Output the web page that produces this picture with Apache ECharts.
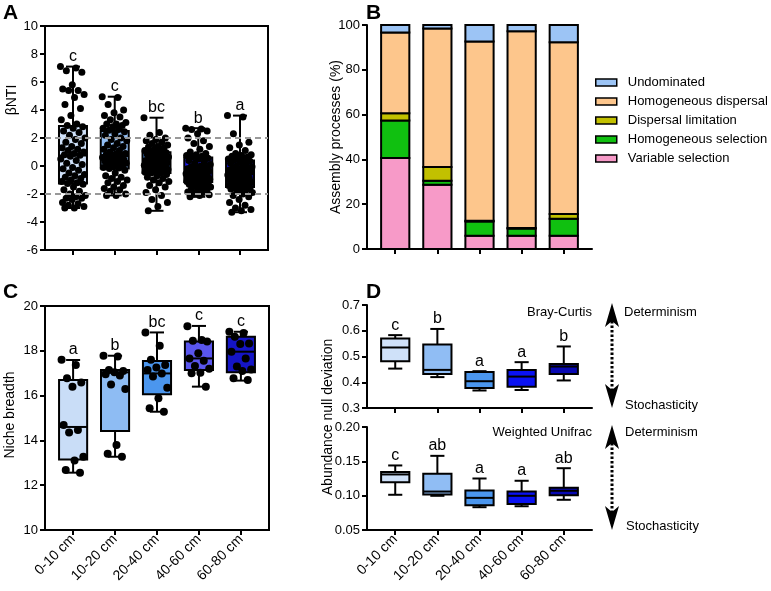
<!DOCTYPE html>
<html><head><meta charset="utf-8">
<script src="https://cdn.jsdelivr.net/npm/echarts@6/dist/echarts.min.js"></script>
<style>html,body{margin:0;padding:0;background:#fff}#c{width:771px;height:591px}</style>
</head><body><div id="c"></div><script>
// ---------- shared ----------
const depths = ['0-10 cm', '10-20 cm', '20-40 cm', '40-60 cm', '60-80 cm'];

// ---------- Panel A: betaNTI ----------
const betaBox = [ // [min, Q1, median, Q3, max]
  [-3.0, -1.25, 0.75, 2.85, 7.1],
  [-2.1, -0.17, 0.7, 2.5, 4.95],
  [-3.2, -0.5, 0.1, 0.98, 3.45],
  [-2.2, -1.15, -0.45, 0.6, 2.7],
  [-3.3, -1.5, -0.55, 0.4, 3.6]
];
const betaLetters = ['c', 'c', 'bc', 'b', 'a'];
const beta_0_10 = [7.1,7.0,6.8,6.7,5.8,5.5,5.4,5.4,5.1,4.9,4.4,4.1,3.6,3.3,3.0,2.9,
  2.8,2.7,2.5,2.4,2.2,2.0,1.9,1.7,1.6,1.4,1.3,1.2,1.1,1.0,0.9,0.8,0.76,
  0.7,0.5,0.4,0.2,0.1,-0.1,-0.2,-0.3,-0.5,-0.6,-0.7,-0.8,-0.9,-1.0,-1.1,-1.2,-1.25,
  -1.3,-1.5,-1.7,-1.8,-2.0,-2.1,-2.2,-2.3,-2.3,-2.4,-2.6,-2.7,-2.8,-2.9,-3.0,-3.0];
const beta_10_20 = [4.95,4.9,4.4,4.0,3.8,3.6,3.5,3.3,3.1,3.0,3.0,2.9,2.8,2.7,2.6,2.55,
  2.45,2.3,2.2,2.0,1.9,1.8,1.6,1.5,1.4,1.3,1.2,1.1,1.0,0.9,0.85,0.8,0.75,
  0.65,0.6,0.55,0.5,0.45,0.4,0.35,0.3,0.25,0.2,0.1,0.05,0.0,-0.05,-0.1,-0.15,-0.17,
  -0.3,-0.5,-0.7,-0.8,-0.9,-1.0,-1.1,-1.2,-1.4,-1.5,-1.6,-1.7,-1.8,-2.0,-2.1,-2.1];
const beta_20_40 = [3.45,2.4,2.2,2.0,1.9,1.8,1.7,1.6,1.5,1.4,1.35,1.3,1.2,1.1,1.05,1.0,
  0.95,0.9,0.85,0.8,0.7,0.65,0.6,0.55,0.5,0.45,0.4,0.35,0.3,0.25,0.2,0.15,0.1,
  0.08,0.05,0.0,-0.02,-0.05,-0.1,-0.12,-0.15,-0.2,-0.25,-0.3,-0.35,-0.38,-0.4,-0.45,-0.48,-0.5,
  -0.6,-0.7,-0.8,-0.9,-1.0,-1.1,-1.2,-1.4,-1.5,-1.7,-1.9,-2.1,-2.4,-2.6,-2.9,-3.2];
const beta_40_60 = [2.7,2.65,2.6,2.5,2.3,2.0,1.8,1.6,1.4,1.2,1.0,0.9,0.8,0.75,0.7,0.65,
  0.55,0.5,0.4,0.3,0.2,0.1,0.0,-0.05,-0.1,-0.15,-0.2,-0.25,-0.3,-0.35,-0.4,-0.42,-0.45,
  -0.5,-0.55,-0.6,-0.65,-0.7,-0.75,-0.8,-0.85,-0.9,-0.95,-1.0,-1.02,-1.05,-1.08,-1.1,-1.12,-1.15,
  -1.2,-1.25,-1.3,-1.4,-1.45,-1.5,-1.6,-1.65,-1.7,-1.8,-1.85,-1.9,-2.0,-2.05,-2.1,-2.2];
const beta_60_80 = [3.6,3.5,2.3,1.7,1.5,1.3,1.1,0.9,0.8,0.75,0.7,0.65,0.6,0.5,0.45,0.42,
  0.35,0.3,0.2,0.1,0.0,-0.05,-0.1,-0.15,-0.2,-0.25,-0.3,-0.35,-0.4,-0.45,-0.5,-0.52,-0.55,
  -0.6,-0.65,-0.7,-0.8,-0.85,-0.9,-1.0,-1.05,-1.1,-1.15,-1.2,-1.25,-1.3,-1.35,-1.4,-1.45,-1.5,
  -1.55,-1.6,-1.65,-1.7,-1.8,-1.9,-2.0,-2.1,-2.2,-2.4,-2.6,-2.8,-3.0,-3.1,-3.2,-3.3];
const betaPoints = [beta_0_10, beta_10_20, beta_20_40, beta_40_60, beta_60_80];

// ---------- Panel B: assembly processes (%) ----------
const variableSelection    = [40.6, 28.7, 5.9, 5.9, 5.9];
const homogeneousSelection = [16.8, 1.8, 6.4, 3.2, 7.6];
const dispersalLimitation  = [3.2, 6.1, 0.3, 0.3, 2.1];
const homogeneousDispersal = [36.1, 61.8, 80.0, 87.8, 76.7];
const undominated          = [3.3, 1.6, 7.4, 2.8, 7.7];

// ---------- Panel C: niche breadth ----------
const nicheBox = [
  [12.56, 13.15, 14.6, 16.7, 17.59],
  [13.27, 14.42, 17.04, 17.14, 17.78],
  [15.28, 16.06, 16.99, 17.54, 18.82],
  [16.4, 17.14, 17.66, 18.41, 19.11],
  [16.67, 17.04, 17.96, 18.63, 18.85]
];
const nicheLetters = ['a', 'b', 'bc', 'c', 'c'];
const niche_0_10  = [17.6,17.37,16.77,16.58,16.4,14.69,14.46,14.35,13.27,13.1,12.68,12.56];
const niche_10_20 = [17.78,17.74,17.14,17.1,17.04,16.95,16.9,16.5,16.3,13.8,13.4,13.27];
const niche_20_40 = [18.82,18.23,17.6,17.37,17.26,17.14,16.99,16.85,16.35,15.88,15.43,15.28];
const niche_40_60 = [19.1,18.48,18.45,18.41,17.89,17.66,17.56,17.32,17.2,17.02,17.0,16.4];
const niche_60_80 = [18.85,18.8,18.63,18.33,18.3,17.96,17.66,17.3,17.17,17.1,16.77,16.7];
const nichePoints = [niche_0_10, niche_10_20, niche_20_40, niche_40_60, niche_60_80];

// ---------- Panel D: abundance null deviation ----------
const brayBox = [
  [0.453, 0.482, 0.535, 0.570, 0.583],
  [0.420, 0.432, 0.448, 0.547, 0.607],
  [0.368, 0.378, 0.404, 0.440, 0.443],
  [0.370, 0.383, 0.422, 0.448, 0.478],
  [0.407, 0.432, 0.461, 0.471, 0.539]
];
const brayLetters = ['c', 'b', 'a', 'a', 'b'];
const unifracBox = [
  [0.1013, 0.1197, 0.1309, 0.1343, 0.144],
  [0.0998, 0.1017, 0.106, 0.132, 0.158],
  [0.0832, 0.086, 0.0968, 0.1076, 0.125],
  [0.0846, 0.088, 0.0998, 0.106, 0.1217],
  [0.094, 0.1007, 0.1071, 0.1115, 0.140]
];
const unifracLetters = ['c', 'ab', 'a', 'a', 'ab'];

// ---------- styling ----------
const FONT = "'Liberation Sans', Arial, sans-serif";
const fillsA = ['#cfe1f9', '#92bff5', '#4e98ef', '#1e1ef2', '#0c0cbc'];
const fillsC = ['#c9ddf7', '#8ebcf3', '#4b96ee', '#5a56ee', '#1515c6'];
const fillsD = ['#cfe1f9', '#90bdf4', '#4b96ee', '#0a12f2', '#0808b2'];
const procColors = {
  'Variable selection': '#f79ac8',
  'Homogeneous selection': '#10c010',
  'Dispersal limitation': '#c2c000',
  'Homogeneous dispersal': '#fdc68c',
  'Undominated': '#9cc4f5'
};

function boxRenderer(fills, letters) {
  return function (params, api) {
    const i = params.dataIndex;
    const x = api.value(0);
    const p = [1, 2, 3, 4, 5].map(k => api.coord([x, api.value(k)]));
    const unit = api.size([1, 0])[0];
    const bw = unit * 0.67, cw = bw * 0.5;
    const cx = p[0][0];
    const ls = { stroke: '#000', lineWidth: 2 };
    return {
      type: 'group', children: [
        { type: 'line', shape: { x1: cx, y1: p[3][1], x2: cx, y2: p[4][1] }, style: ls },
        { type: 'line', shape: { x1: cx, y1: p[0][1], x2: cx, y2: p[1][1] }, style: ls },
        { type: 'line', shape: { x1: cx - cw / 2, y1: p[4][1], x2: cx + cw / 2, y2: p[4][1] }, style: ls },
        { type: 'line', shape: { x1: cx - cw / 2, y1: p[0][1], x2: cx + cw / 2, y2: p[0][1] }, style: ls },
        { type: 'rect', shape: { x: cx - bw / 2, y: p[3][1], width: bw, height: p[1][1] - p[3][1] },
          style: { fill: fills[i], stroke: '#000', lineWidth: 2 } },
        { type: 'line', shape: { x1: cx - bw / 2, y1: p[2][1], x2: cx + bw / 2, y2: p[2][1] }, style: ls },
        { type: 'text', style: { text: letters[i], x: cx, y: p[4][1] - 2, align: 'center', verticalAlign: 'bottom',
          fontSize: 16, fontFamily: FONT, fill: '#000' } }
      ]
    };
  };
}
function boxSeries(gridIdx, box, fills, letters) {
  return {
    type: 'custom', xAxisIndex: gridIdx, yAxisIndex: gridIdx, z: 2,
    renderItem: boxRenderer(fills, letters),
    encode: { x: 0, y: [1, 2, 3, 4, 5] },
    data: box.map((b, i) => [i + 1].concat(b))
  };
}
// horizontal spread of dots inside a group (layout only)
function spread(k, w) { return ((k * 0.6180339887) % 1 - 0.5) * w; }
function dotSeries(gridIdx, groups, w, size) {
  const data = [];
  groups.forEach((g, gi) => g.forEach((v, k) => data.push([gi + 1 + spread(k, w), v])));
  return { type: 'scatter', xAxisIndex: gridIdx, yAxisIndex: gridIdx, z: 3, symbolSize: size,
    itemStyle: { color: '#000', opacity: 1 }, data: data, silent: true };
}
function xAxis(gridIdx, labels) {
  return {
    type: 'value', gridIndex: gridIdx, min: 0.33, max: 5.67,
    axisLine: { show: true, onZero: false, lineStyle: { color: '#000', width: 2 } },
    axisTick: { show: true, customValues: [1, 2, 3, 4, 5], length: 5, lineStyle: { color: '#000', width: 2 } },
    axisLabel: { show: labels, customValues: [1, 2, 3, 4, 5], formatter: v => depths[Math.round(v) - 1],
      rotate: 45, fontSize: 14, fontFamily: FONT, color: '#000', margin: 7 },
    splitLine: { show: false }
  };
}
function yAxis(gridIdx, min, max, interval, fmt) {
  return {
    type: 'value', gridIndex: gridIdx, min: min, max: max, interval: interval,
    axisLine: { show: true, onZero: false, lineStyle: { color: '#000', width: 2 } },
    axisTick: { show: true, length: 5, lineStyle: { color: '#000', width: 2 } },
    axisLabel: { fontSize: 13, fontFamily: FONT, color: '#000', margin: 7, formatter: fmt },
    splitLine: { show: false }
  };
}

// stacked bars of panel B (custom series, stacked on the value scale)
const procOrder = ['Variable selection', 'Homogeneous selection', 'Dispersal limitation', 'Homogeneous dispersal', 'Undominated'];
const procValues = [variableSelection, homogeneousSelection, dispersalLimitation, homogeneousDispersal, undominated];
const cumulative = [0, 0, 0, 0, 0];
const barSeries = procOrder.map((name, si) => {
  const color = procColors[name];
  const data = procValues[si].map((v, i) => { const b = cumulative[i]; cumulative[i] += v; return [i + 1, b, b + v]; });
  return {
    type: 'custom', name: name, xAxisIndex: 1, yAxisIndex: 1, z: 2,
    itemStyle: { color: color },
    encode: { x: 0, y: [1, 2] },
    data: data,
    renderItem: function (params, api) {
      const p0 = api.coord([api.value(0), api.value(1)]);
      const p1 = api.coord([api.value(0), api.value(2)]);
      const w = api.size([1, 0])[0] * 0.67;
      return { type: 'rect', shape: { x: p0[0] - w / 2, y: p1[1], width: w, height: p0[1] - p1[1] },
        style: { fill: color, stroke: '#000', lineWidth: 2 } };
    }
  };
});

function rotText(text, x, y) {
  return { type: 'text', x: x, y: y, rotation: Math.PI / 2,
    style: { text: text, align: 'center', verticalAlign: 'middle', fontSize: 14, fontFamily: FONT, fill: '#000' } };
}
function txt(text, x, y, align) {
  return { type: 'text', x: x, y: y,
    style: { text: text, align: align, verticalAlign: 'middle', fontSize: 13, fontFamily: FONT, fill: '#000' } };
}
function panelLabel(t, x, y) {
  return { type: 'text', x: x, y: y, style: { text: t, fontSize: 21, fontWeight: 'bold', fontFamily: FONT, fill: '#000' } };
}
function arrow(x, yTop, yBot) {
  return [
    { type: 'polygon', shape: { points: [[x, yTop], [x + 7, yTop + 24], [x, yTop + 18], [x - 7, yTop + 24]] }, style: { fill: '#000' } },
    { type: 'polygon', shape: { points: [[x, yBot], [x + 7, yBot - 24], [x, yBot - 18], [x - 7, yBot - 24]] }, style: { fill: '#000' } },
    { type: 'line', shape: { x1: x, y1: yTop + 18, x2: x, y2: yBot - 18 }, style: { stroke: '#000', lineWidth: 3, lineDash: [2.5, 2] } }
  ];
}

const chart = echarts.init(document.getElementById('c'), null, { renderer: 'canvas' });
const gridBase = { outerBoundsMode: 'none', containLabel: false };
chart.setOption({
  backgroundColor: '#fff',
  animation: false,
  textStyle: { fontFamily: FONT },
  grid: [
    Object.assign({ left: 45, top: 26, width: 223, height: 224, show: true, borderColor: '#000', borderWidth: 2 }, gridBase),
    Object.assign({ left: 367, top: 25, width: 225, height: 224 }, gridBase),
    Object.assign({ left: 45, top: 306, width: 224, height: 224, show: true, borderColor: '#000', borderWidth: 2 }, gridBase),
    Object.assign({ left: 367, top: 305, width: 225, height: 103 }, gridBase),
    Object.assign({ left: 367, top: 427, width: 225, height: 103 }, gridBase)
  ],
  xAxis: [xAxis(0, false), xAxis(1, false), xAxis(2, true), xAxis(3, false), xAxis(4, true)],
  yAxis: [
    yAxis(0, -6, 10, 2),
    yAxis(1, 0, 100, 20),
    yAxis(2, 10, 20, 2),
    yAxis(3, 0.3, 0.7, 0.1, v => v.toFixed(1)),
    yAxis(4, 0.05, 0.2, 0.05, v => v.toFixed(2))
  ],
  legend: {
    data: ['Undominated', 'Homogeneous dispersal', 'Dispersal limitation', 'Homogeneous selection', 'Variable selection'],
    orient: 'vertical', left: 590, top: 70, itemWidth: 21, itemHeight: 7, itemGap: 4, icon: 'rect',
    itemStyle: { borderColor: '#000', borderWidth: 1.5 },
    textStyle: { fontSize: 13, fontFamily: FONT, color: '#000', lineHeight: 15, padding: [0, 0, 0, 6] },
    selectedMode: false
  },
  series: [
    boxSeries(0, betaBox, fillsA, betaLetters),
    Object.assign(dotSeries(0, betaPoints, 0.6, 7), {
      markLine: { silent: true, symbol: 'none', label: { show: false },
        lineStyle: { color: '#999', type: [6, 4], width: 2 },
        data: [{ yAxis: 2 }, { yAxis: -2 }] }
    }),
    ...barSeries,
    boxSeries(2, nicheBox, fillsC, nicheLetters),
    dotSeries(2, nichePoints, 0.55, 8),
    boxSeries(3, brayBox, fillsD, brayLetters),
    boxSeries(4, unifracBox, fillsD, unifracLetters)
  ],
  graphic: [
    panelLabel('A', 3, 3), panelLabel('B', 366, 3), panelLabel('C', 3, 282), panelLabel('D', 366, 282),
    rotText('βNTI', 12, 100),
    rotText('Assembly processes (%)', 336, 137),
    rotText('Niche breadth', 10, 415),
    rotText('Abundance null deviation', 328, 417),
    txt('Bray-Curtis', 592, 312, 'right'),
    txt('Weighted Unifrac', 592, 432, 'right'),
    txt('Determinism', 624, 312, 'left'),
    txt('Stochasticity', 625, 405, 'left'),
    txt('Determinism', 625, 432, 'left'),
    txt('Stochasticity', 626, 526, 'left'),
    ...arrow(612, 303, 408),
    ...arrow(612, 425, 530)
  ]
});
</script></body></html>
